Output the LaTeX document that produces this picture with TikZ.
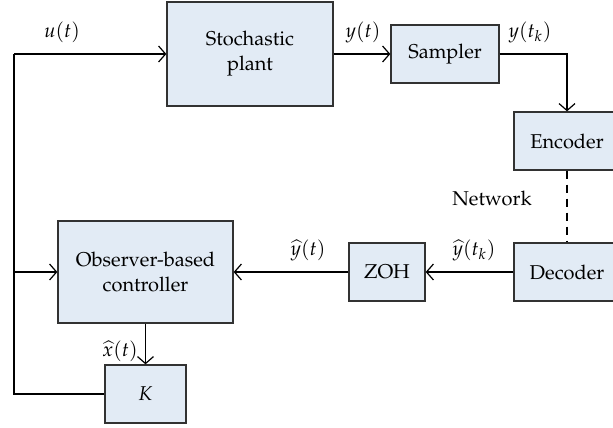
\documentclass[tikz,border=0pt]{standalone}
\usepackage[T1]{fontenc}
\usepackage{mathpazo}
\usetikzlibrary{arrows.meta}
\definecolor{boxfill}{RGB}{226,235,245}
\definecolor{edge}{RGB}{50,50,50}
\begin{document}
\begin{tikzpicture}[x=0.5pt,y=-0.5pt,
  blk/.style={draw=edge, fill=boxfill, line width=0.65pt, inner sep=0pt, align=center, font=\fontsize{10}{12.5}\selectfont},
  arr/.style={-{Straight Barb[length=3.5pt,width=8pt]}},
  conn/.style={line width=0.6pt, draw=black},
  lbl/.style={font=\fontsize{10}{12}\selectfont, inner sep=1pt}]
\useasboundingbox (0,0) rectangle (613,427);
\node[blk, minimum width=83pt, minimum height=52pt] (plant) at (250,54) {Stochastic\\plant};
\node[blk, minimum width=54pt, minimum height=29pt] (samp) at (445,54) {Sampler};
\node[blk, minimum width=53pt, minimum height=29pt] (enc) at (567,141) {Encoder};
\node[blk, minimum width=53pt, minimum height=29pt] (dec) at (567,272) {Decoder};
\node[blk, minimum width=38pt, minimum height=29pt] (zoh) at (387,272) {ZOH};
\node[blk, minimum width=87.5pt, minimum height=51pt] (obs) at (145.5,272) {Observer-based\\controller};
\node[blk, minimum width=40.5pt, minimum height=29pt] (K) at (145.5,394) {$K$};
\coordinate (lt) at (14,54);
\coordinate (lm) at (14,272);
\coordinate (lb) at (14,394);
\draw[conn] (K.west) -- (lb) -- (lt);
\draw[conn,arr] (lt) -- (plant.west);
\draw[conn,arr] (lm) -- (obs.west);
\draw[conn,arr] (plant.east) -- (samp.west);
\draw[conn,arr] (samp.east) -| (enc.north);
\draw[conn,dashed,dash pattern=on 4pt off 3pt] (enc.south) -- (dec.north);
\draw[conn,arr] (dec.west) -- (zoh.east);
\draw[conn,arr] (zoh.west) -- (obs.east);
\draw[conn,arr] (obs.south) -- (K.north);
\node[lbl] (lu) at (62,32) {$u(t)$};
\node[lbl] (ly) at (363,32) {$y(t)$};
\node[lbl] (lyk) at (530,32) {$y(t_k)$};
\node[lbl] (lnet) at (492,198) {Network};
\node[lbl] (lyhk) at (474,250) {$\widehat{y}(t_k)$};
\node[lbl] (lyh) at (308,250) {$\widehat{y}(t)$};
\node[lbl] (lxh) at (120,351) {$\widehat{x}(t)$};
\end{tikzpicture}
\end{document}
